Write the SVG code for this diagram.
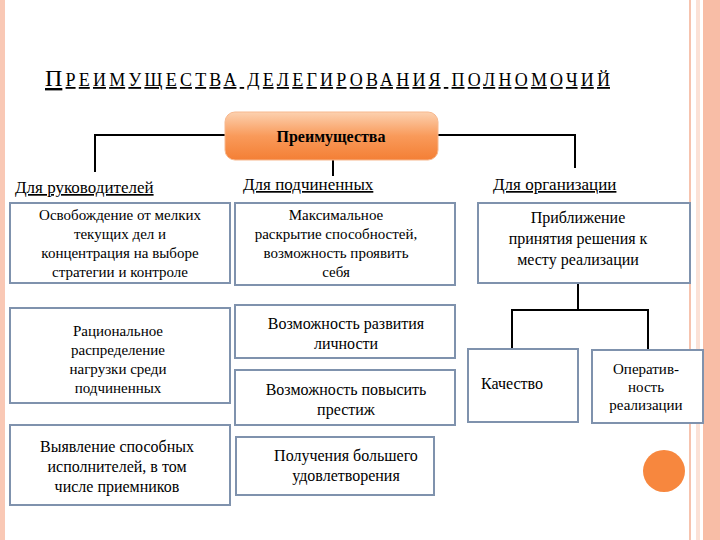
<svg xmlns="http://www.w3.org/2000/svg" width="720" height="540" viewBox="0 0 720 540" font-family="'Liberation Serif', 'DejaVu Serif', serif">
<defs>
<linearGradient id="og" x1="0" y1="0" x2="0" y2="1"><stop offset="0" stop-color="#fcd1b0"/><stop offset="0.5" stop-color="#f99a5a"/><stop offset="1" stop-color="#f47f35"/></linearGradient>
<style>
.b{fill:#fff;stroke:#7f92ad;stroke-width:2}
.t{font-size:15px;text-anchor:middle}
.h{font-size:17px;text-decoration:underline}
.c{fill:none;stroke:#000;stroke-width:2}
</style>
</defs>
<rect width="720" height="540" fill="#fff"/>
<rect x="0" y="0" width="5" height="540" fill="#f9c8b5"/>
<rect x="689" y="0" width="2" height="540" fill="#f6c3ae"/>
<rect x="696" y="0" width="4" height="540" fill="#fbe2d7"/>
<rect x="703" y="0" width="17" height="540" fill="#f8bda6"/>
<text x="45" y="86" font-size="24" text-decoration="underline" textLength="565" lengthAdjust="spacing">П<tspan font-size="18">РЕИМУЩЕСТВА ДЕЛЕГИРОВАНИЯ ПОЛНОМОЧИЙ</tspan></text>
<g id="connectors">
<path class="c" d="M225 135H95V172M438 135H575V168M333 160V176"/>
<path class="c" d="M578 284V310M512 348V310H648V352"/>
</g>
<g id="root"><rect x="225" y="112" width="213" height="48" rx="10" fill="url(#og)" stroke="#f7b88e"/><text x="331" y="142" font-size="16" font-weight="bold" text-anchor="middle">Преимущества</text></g>
<g id="l1"><text class="h" x="15" y="193">Для руководителей</text></g>
<g id="l2"><text class="h" x="243" y="190">Для подчиненных</text></g>
<g id="l3"><text class="h" x="493" y="190">Для организации</text></g>
<g id="a1"><rect class="b" x="10" y="203" width="220" height="80"/><text class="t" y="220"><tspan x="120">Освобождение от мелких</tspan><tspan x="120" dy="19">текущих дел и</tspan><tspan x="120" dy="19">концентрация на выборе</tspan><tspan x="120" dy="19">стратегии и контроле</tspan></text></g>
<g id="a2"><rect class="b" x="10" y="308" width="220" height="95"/><text class="t" y="336"><tspan x="118">Рациональное</tspan><tspan x="118" dy="19">распределение</tspan><tspan x="118" dy="19">нагрузки среди</tspan><tspan x="118" dy="19">подчиненных</tspan></text></g>
<g id="a3"><rect class="b" x="10" y="425" width="220" height="80"/><text class="t" style="font-size:16px" y="452"><tspan x="117">Выявление способных</tspan><tspan x="117" dy="20">исполнителей, в том</tspan><tspan x="117" dy="20">числе приемников</tspan></text></g>
<g id="b1"><rect class="b" x="235" y="203" width="220" height="82"/><text class="t" y="220"><tspan x="336">Максимальное</tspan><tspan x="336" dy="19">раскрытие способностей,</tspan><tspan x="336" dy="19">возможность проявить</tspan><tspan x="336" dy="19">себя</tspan></text></g>
<g id="b2"><rect class="b" x="235" y="305" width="220" height="53"/><text class="t" style="font-size:16px" y="329"><tspan x="346">Возможность развития</tspan><tspan x="346" dy="20">личности</tspan></text></g>
<g id="b3"><rect class="b" x="235" y="370" width="220" height="55"/><text class="t" style="font-size:16px" y="395"><tspan x="346">Возможность повысить</tspan><tspan x="346" dy="20">престиж</tspan></text></g>
<g id="b4"><rect class="b" x="236" y="437" width="198" height="58"/><text class="t" style="font-size:16px" y="461"><tspan x="346">Получения большего</tspan><tspan x="346" dy="20">удовлетворения</tspan></text></g>
<g id="c1"><rect class="b" x="478" y="203" width="212" height="80"/><text class="t" style="font-size:16px" y="223"><tspan x="578">Приближение</tspan><tspan x="578" dy="21">принятия решения к</tspan><tspan x="578" dy="21">месту реализации</tspan></text></g>
<g id="d1"><rect class="b" x="468" y="349" width="110" height="73"/><text x="481" y="389" font-size="16">Качество</text></g>
<g id="d2"><rect class="b" x="592" y="350" width="111" height="73"/><text class="t" y="374"><tspan x="646">Оператив-</tspan><tspan x="646" dy="18">ность</tspan><tspan x="646" dy="18">реализации</tspan></text></g>
<circle cx="664" cy="471" r="21" fill="#f7873e"/>
</svg>
